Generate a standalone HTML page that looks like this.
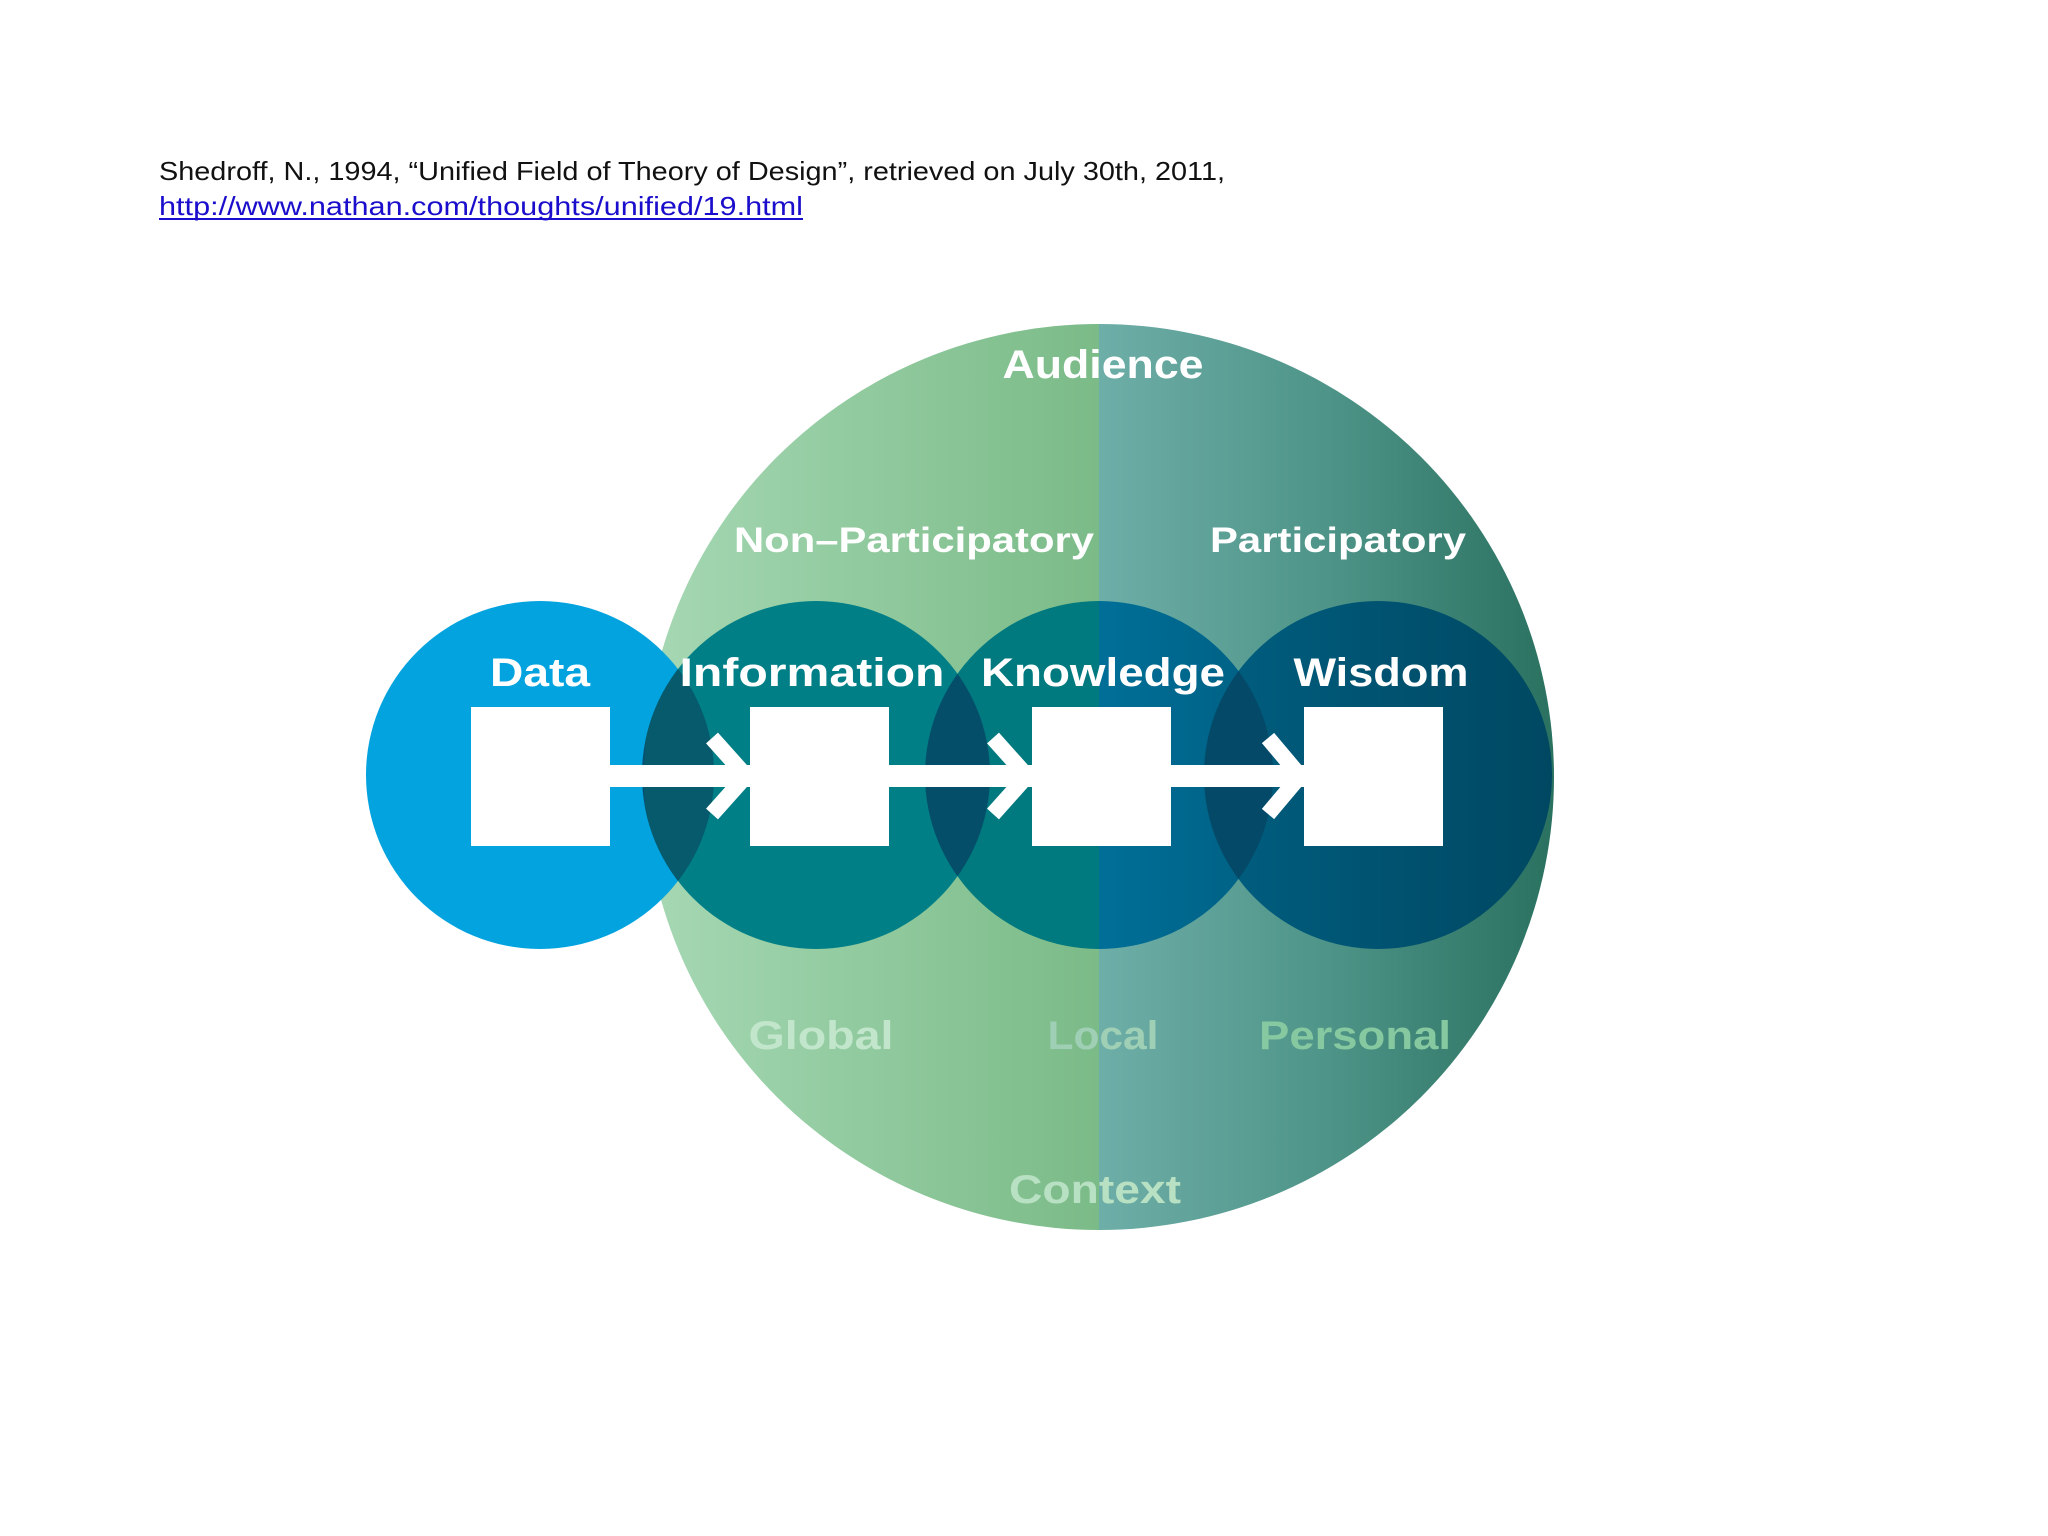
<!DOCTYPE html>
<html><head><meta charset="utf-8"><style>
html,body{margin:0;padding:0;background:#fff;width:2048px;height:1536px;overflow:hidden}
</style></head><body>
<svg width="2048" height="1536" viewBox="0 0 2048 1536" xmlns="http://www.w3.org/2000/svg">
<defs>
<linearGradient id="gl" x1="644" y1="0" x2="1099" y2="0" gradientUnits="userSpaceOnUse">
<stop offset="0" stop-color="#a6d8b4"/><stop offset="1" stop-color="#7bbb88"/></linearGradient>
<linearGradient id="gr" x1="1099" y1="0" x2="1554" y2="0" gradientUnits="userSpaceOnUse">
<stop offset="0" stop-color="#6eaea8"/><stop offset="0.5" stop-color="#4e9488"/><stop offset="1" stop-color="#2a7160"/></linearGradient>
<linearGradient id="gk" x1="1099" y1="0" x2="1273" y2="0" gradientUnits="userSpaceOnUse">
<stop offset="0" stop-color="#006f98"/><stop offset="1" stop-color="#005f82"/></linearGradient>
<linearGradient id="gw" x1="1204" y1="0" x2="1552" y2="0" gradientUnits="userSpaceOnUse">
<stop offset="0" stop-color="#005e80"/><stop offset="1" stop-color="#004862"/></linearGradient>
<clipPath id="left"><rect x="0" y="0" width="1099" height="1536"/></clipPath>
<clipPath id="right"><rect x="1099" y="0" width="949" height="1536"/></clipPath>
<clipPath id="cData"><circle cx="540" cy="775" r="174"/></clipPath>
<clipPath id="cInfo"><circle cx="816" cy="775" r="174"/></clipPath>
<clipPath id="cKnow"><circle cx="1099" cy="775" r="174"/></clipPath>
<clipPath id="cBig"><ellipse cx="1099" cy="777" rx="455" ry="453"/></clipPath>
</defs>
<text x="159" y="180" font-family="Liberation Sans, sans-serif" font-size="26" fill="#111" textLength="1066" lengthAdjust="spacingAndGlyphs">Shedroff, N., 1994, “Unified Field of Theory of Design”, retrieved on July 30th, 2011,</text>
<text x="159" y="215" font-family="Liberation Sans, sans-serif" font-size="26" fill="#1a0dcc" textLength="644" lengthAdjust="spacingAndGlyphs">http://www.nathan.com/thoughts/unified/19.html</text>
<rect x="159" y="218" width="644" height="2" fill="#1a0dcc"/>

<ellipse cx="1099" cy="777" rx="455" ry="453" fill="url(#gl)" clip-path="url(#left)"/>
<ellipse cx="1099" cy="777" rx="455" ry="453" fill="url(#gr)" clip-path="url(#right)"/>

<circle cx="540" cy="775" r="174" fill="#03a3df"/>
<circle cx="816" cy="775" r="174" fill="#007f87"/>
<circle cx="1099" cy="775" r="174" fill="#00797f" clip-path="url(#left)"/>
<circle cx="1099" cy="775" r="174" fill="url(#gk)" clip-path="url(#right)"/>
<circle cx="1378" cy="775" r="174" fill="url(#gw)"/>
<!-- overlaps -->
<g clip-path="url(#cData)"><circle cx="816" cy="775" r="174" fill="#064f73"/></g>
<g clip-path="url(#cBig)"><g clip-path="url(#cData)"><circle cx="816" cy="775" r="174" fill="#065a6c"/></g></g>
<g clip-path="url(#cInfo)"><circle cx="1099" cy="775" r="174" fill="#054e6a"/></g>
<g clip-path="url(#cKnow)"><circle cx="1378" cy="775" r="174" fill="#044a68"/></g>

<g fill="#fff">
<rect x="471" y="707" width="139" height="139"/>
<rect x="750" y="707" width="139" height="139"/>
<rect x="1032" y="707" width="139" height="139"/>
<rect x="1304" y="707" width="139" height="139"/>
<rect x="610" y="765" width="140" height="22"/>
<rect x="889" y="765" width="143" height="22"/>
<rect x="1171" y="765" width="133" height="22"/>
</g>
<g stroke="#fff" stroke-width="16" fill="none" stroke-linejoin="miter">
<polyline points="712,738 746,776 712,814"/>
<polyline points="993,738 1027,776 993,814"/>
<polyline points="1268,738 1300,776 1268,814"/>
</g>

<g font-family="Liberation Sans, sans-serif" font-weight="bold" fill="#fff" text-anchor="middle">
<text x="540" y="686" font-size="40" textLength="100" lengthAdjust="spacingAndGlyphs">Data</text>
<text x="812" y="686" font-size="40" textLength="265" lengthAdjust="spacingAndGlyphs">Information</text>
<text x="1103" y="686" font-size="40" textLength="244" lengthAdjust="spacingAndGlyphs">Knowledge</text>
<text x="1381" y="686" font-size="40" textLength="175" lengthAdjust="spacingAndGlyphs">Wisdom</text>
<text x="1103" y="378" font-size="40" textLength="201" lengthAdjust="spacingAndGlyphs">Audience</text>
<text x="914" y="552" font-size="35" textLength="360" lengthAdjust="spacingAndGlyphs">Non–Participatory</text>
<text x="1338" y="552" font-size="35" textLength="256" lengthAdjust="spacingAndGlyphs">Participatory</text>
</g>
<g font-family="Liberation Sans, sans-serif" font-weight="bold" text-anchor="middle" font-size="40">
<text x="821" y="1049" fill="#c2e6cb" textLength="145" lengthAdjust="spacingAndGlyphs">Global</text>
<text x="1103" y="1049" fill="#9fcfb4" textLength="111" lengthAdjust="spacingAndGlyphs">Local</text>
<text x="1355" y="1049" fill="#86c8a0" textLength="192" lengthAdjust="spacingAndGlyphs">Personal</text>
<text x="1095" y="1203" fill="#b8e0c2" textLength="172" lengthAdjust="spacingAndGlyphs">Context</text>
</g>
</svg>
</body></html>
